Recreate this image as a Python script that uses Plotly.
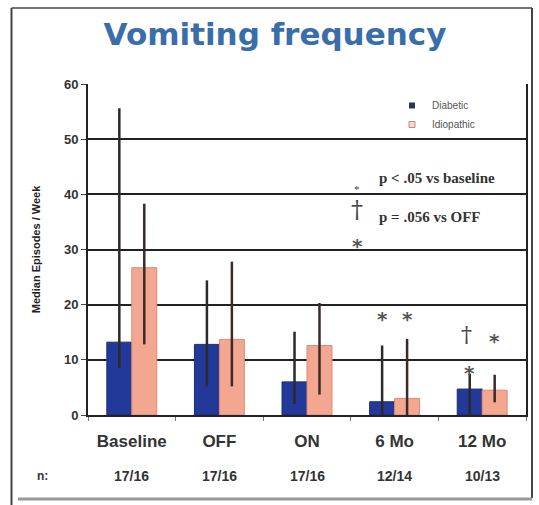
import plotly.graph_objects as go

# ---- data ----
categories = ["Baseline", "OFF", "ON", "6 Mo", "12 Mo"]
n_labels = ["17/16", "17/16", "17/16", "12/14", "10/13"]
diabetic = [13.2, 12.8, 6.0, 2.4, 4.7]
diabetic_low = [8.5, 5.2, 2.0, 0.0, 0.0]
diabetic_high = [55.6, 24.4, 15.1, 12.6, 7.5]
idiopathic = [26.7, 13.7, 12.6, 3.0, 4.5]
idiopathic_low = [12.8, 5.2, 3.7, 0.0, 2.3]
idiopathic_high = [38.3, 27.8, 20.3, 13.8, 7.3]
# significance marks: (category, series, symbol, y value)
sig_marks = [
    ("6 Mo", "Diabetic", "*", 17.8),
    ("6 Mo", "Idiopathic", "*", 17.8),
    ("12 Mo", "Diabetic", "†", 14.6),
    ("12 Mo", "Diabetic", "*", 7.9),
    ("12 Mo", "Idiopathic", "*", 13.7),
]

W, H = 539, 505
ML, MR, MT, MB = 88, 13, 84, 90
PW = W - ML - MR
PH = H - MT - MB


def px_x(px):
    return (px - ML) / PW


def px_y(py):
    return (H - MB - py) / PH


BLUE = "#22399a"
SALMON = "#f3a690"
DARK = "#222222"
AX_FONT = "Liberation Sans, Arial, sans-serif"

fig = go.Figure()
fig.add_trace(go.Bar(
    x=categories, y=diabetic, name="Diabetic", showlegend=False,
    marker=dict(color=BLUE, line=dict(color="#1a2d7a", width=1)),
    error_y=dict(type="data", symmetric=False,
                 array=[h - v for h, v in zip(diabetic_high, diabetic)],
                 arrayminus=[v - l for v, l in zip(diabetic, diabetic_low)],
                 color="#2a2a2a", thickness=2.5, width=0),
))
fig.add_trace(go.Bar(
    x=categories, y=idiopathic, name="Idiopathic", showlegend=False,
    marker=dict(color=SALMON, line=dict(color="#d98c78", width=1)),
    error_y=dict(type="data", symmetric=False,
                 array=[h - v for h, v in zip(idiopathic_high, idiopathic)],
                 arrayminus=[v - l for v, l in zip(idiopathic, idiopathic_low)],
                 color="#3a2a2a", thickness=2.5, width=0),
))
# legend entries
fig.add_trace(go.Scatter(x=[None], y=[None], mode="markers", name="Diabetic",
                         marker=dict(symbol="square", size=6, color="#2a3550")))
fig.add_trace(go.Scatter(x=[None], y=[None], mode="markers", name="Idiopathic",
                         marker=dict(symbol="square", size=6, color="#f6d8d0",
                                     line=dict(color="#c08a80", width=1))))

STAR_FONT = dict(family="DejaVu Sans", size=20, color="#555", weight="bold")
annotations = []
bar_px = PW / len(categories) * (1 - 0.43) / 2
for cat, series, sym, yv in sig_marks:
    shift = -bar_px / 2 if series == "Diabetic" else bar_px / 2
    if sym == "*":
        annotations.append(dict(x=cat, y=yv, xref="x", yref="y", text=sym, showarrow=False,
                                xshift=shift, yshift=-2, font=STAR_FONT))
    else:
        annotations.append(dict(x=cat, y=yv, xref="x", yref="y", text=sym, showarrow=False,
                                xshift=shift - 3,
                                font=dict(family="DejaVu Serif", size=22, color="#444")))

for cat, nl in zip(categories, n_labels):
    annotations.append(dict(x=cat, y=px_y(476), xref="x", yref="paper", text=nl,
                            showarrow=False, yanchor="middle",
                            font=dict(family=AX_FONT, size=14, color="#333", weight="bold")))
annotations.append(dict(x=px_x(35), y=px_y(476), xref="paper", yref="paper", text="n:",
                        showarrow=False, yanchor="middle",
                        font=dict(family=AX_FONT, size=12, color="#333", weight="bold")))

# p-value notes
NOTE_FONT = dict(family="Liberation Serif, Times New Roman, serif", size=15, color="#333", weight="bold")
annotations += [
    dict(x=px_x(357), y=px_y(178), xref="paper", yref="paper", text="*", showarrow=False,
         yshift=-3, font=dict(family="Liberation Serif", size=11, color="#444")),
    dict(x=px_x(377), y=px_y(178), xref="paper", yref="paper", text="p < .05 vs baseline",
         showarrow=False, xanchor="left", yanchor="middle", font=NOTE_FONT),
    dict(x=px_x(357), y=px_y(210), xref="paper", yref="paper", text="†", showarrow=False,
         yanchor="middle", font=dict(family="DejaVu Serif", size=24, color="#444")),
    dict(x=px_x(377), y=px_y(217), xref="paper", yref="paper", text="p = .056 vs OFF",
         showarrow=False, xanchor="left", yanchor="middle", font=NOTE_FONT),
    dict(x=px_x(357), y=px_y(243), xref="paper", yref="paper", text="*", showarrow=False,
         yshift=-3, font=STAR_FONT),
]

shapes = [
    # outer frame
    dict(type="line", xref="paper", yref="paper", x0=px_x(11.5), x1=px_x(11.5),
         y0=px_y(8), y1=px_y(505), line=dict(color="#444", width=2)),
    dict(type="line", xref="paper", yref="paper", x0=px_x(11.5), x1=px_x(532),
         y0=px_y(8), y1=px_y(8), line=dict(color="#444", width=1.5)),
    dict(type="line", xref="paper", yref="paper", x0=px_x(532), x1=px_x(532),
         y0=px_y(8), y1=px_y(498), line=dict(color="#444", width=2)),
    dict(type="line", xref="paper", yref="paper", x0=px_x(18), x1=px_x(532),
         y0=px_y(499), y1=px_y(499), line=dict(color="#999", width=3)),
]

fig.update_layout(
    width=W, height=H,
    margin=dict(l=ML, r=MR, t=MT, b=MB),
    paper_bgcolor="white", plot_bgcolor="white",
    barmode="group", bargap=0.43, bargroupgap=0,
    title=dict(text="Vomiting frequency", x=(275) / W, xanchor="center",
               y=1 - 34 / H, yanchor="middle", yref="container",
               font=dict(family="DejaVu Sans", size=31, color="#3a6ea8", weight="bold")),
    legend=dict(x=px_x(392), y=px_y(91), xanchor="left", yanchor="top",
                bgcolor="rgba(0,0,0,0)", font=dict(family=AX_FONT, size=10, color="#555"),
                itemwidth=30, tracegroupgap=0),
    xaxis=dict(type="category", range=[-0.5, 4.5], showline=True, linecolor=DARK, linewidth=2,
               ticks="outside", tickson="boundaries", ticklen=4, tickcolor="#777",
               ticklabelstandoff=10,
               tickfont=dict(family=AX_FONT, size=17, color="#333", weight="bold"),
               showgrid=False),
    yaxis=dict(range=[0, 60], dtick=10, showline=True, linecolor=DARK, linewidth=2, mirror=True,
               showgrid=True, gridcolor=DARK, gridwidth=2, zeroline=False,
               ticks="outside", ticklen=5, tickcolor="#444",
               tickfont=dict(family=AX_FONT, size=13, color="#333", weight="bold"),
               title=dict(text="Median Episodes / Week", standoff=21,
                          font=dict(family=AX_FONT, size=11, color="#222", weight="bold"))),
    annotations=annotations,
    shapes=shapes,
)

fig.write_html("out.html", config={"displayModeBar": False},
               post_script="document.body.style.margin='0';")
